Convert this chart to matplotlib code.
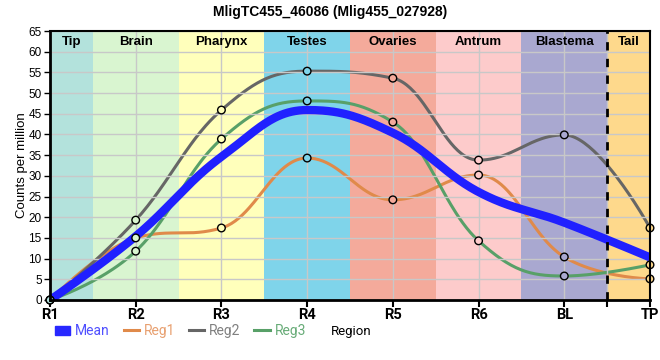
import matplotlib
matplotlib.use('Agg')

import numpy as np
import matplotlib.pyplot as plt
from matplotlib.lines import Line2D
from matplotlib.patches import Patch

# data
regions = ['R1', 'R2', 'R3', 'R4', 'R5', 'R6', 'BL', 'TP']
tissues = ['Tip', 'Brain', 'Pharynx', 'Testes', 'Ovaries', 'Antrum', 'Blastema', 'Tail']
mean_vals = [0, 15.4, 34.6, 45.9, 40.4, 26.1, 18.7, 10.3]
reg1 = [0, 15.0, 17.4, 34.3, 24.2, 30.2, 10.4, 5.1]
reg2 = [0, 19.3, 45.9, 55.3, 53.6, 33.8, 39.9, 17.4]
reg3 = [0, 11.8, 38.9, 48.1, 43.0, 14.3, 5.8, 8.5]

band_colors = ['#b3e2dc', '#d9f5d0', '#ffffbb', '#7fd4ea',
               '#f4aa9b', '#fdcbcb', '#a9a8d0', '#fed98c']


def spline_curve(x, y, n=50):
    """bezier spline through the points, control points at 0.4 of the gap,
    flattened at local extremes (like a Highcharts 'spline' series)"""
    x = np.asarray(x, float)
    y = np.asarray(y, float)
    k = len(x)
    lx, ly = x.copy(), y.copy()
    rx, ry = x.copy(), y.copy()
    sm = 1.5
    d = sm + 1
    for i in range(1, k - 1):
        lcx = (sm * x[i] + x[i - 1]) / d
        lcy = (sm * y[i] + y[i - 1]) / d
        rcx = (sm * x[i] + x[i + 1]) / d
        rcy = (sm * y[i] + y[i + 1]) / d
        corr = (rcy - lcy) * (rcx - x[i]) / (rcx - lcx) + y[i] - rcy
        lcy += corr
        rcy += corr
        if lcy > y[i - 1] and lcy > y[i]:
            lcy = max(y[i - 1], y[i])
            rcy = 2 * y[i] - lcy
        elif lcy < y[i - 1] and lcy < y[i]:
            lcy = min(y[i - 1], y[i])
            rcy = 2 * y[i] - lcy
        if rcy > y[i + 1] and rcy > y[i]:
            rcy = max(y[i + 1], y[i])
            lcy = 2 * y[i] - rcy
        elif rcy < y[i + 1] and rcy < y[i]:
            rcy = min(y[i + 1], y[i])
            lcy = 2 * y[i] - rcy
        lx[i], ly[i], rx[i], ry[i] = lcx, lcy, rcx, rcy
    xs, ys = [], []
    t = np.linspace(0, 1, n)
    b0, b1, b2, b3 = (1 - t)**3, 3 * t * (1 - t)**2, 3 * t**2 * (1 - t), t**3
    for i in range(k - 1):
        xs.append(b0 * x[i] + b1 * rx[i] + b2 * lx[i + 1] + b3 * x[i + 1])
        ys.append(b0 * y[i] + b1 * ry[i] + b2 * ly[i + 1] + b3 * y[i + 1])
    return np.concatenate(xs), np.concatenate(ys)


plt.rcParams['font.family'] = ['Liberation Sans', 'DejaVu Sans']

fig = plt.figure(figsize=(6.6, 3.6), dpi=100)
ax = fig.add_axes([50 / 660, 60 / 360, 600 / 660, 269 / 360])

xpos = np.arange(len(regions))

# tissue bands
for i, (name, col) in enumerate(zip(tissues, band_colors)):
    lo = max(i - 0.5, 0)
    hi = min(i + 0.5, len(regions) - 1)
    ax.axvspan(lo, hi, color=col, lw=0, zorder=0)
    ax.text((lo + hi) / 2, 62.4, name, ha='center', va='center',
            fontsize=9.5, fontweight='bold', zorder=6)

ax.grid(True, color='#c8c8c8', lw=1, zorder=1)
ax.set_axisbelow(False)

ax.axvline(6.5, color='black', lw=2, ls=(0, (3, 3)), zorder=5)

series = [
    ('Reg1', reg1, '#e08a4a'),
    ('Reg2', reg2, '#666666'),
    ('Reg3', reg3, '#58a068'),
]

xm, ym = spline_curve(xpos, mean_vals)
ax.plot(xm, ym, color='#2020ff', lw=6, solid_capstyle='butt', zorder=3)

for name, vals, col in series:
    xs, ys = spline_curve(xpos, vals)
    ax.plot(xs, ys, color=col, lw=2.2, zorder=2)

for name, vals, col in series:
    ax.scatter(xpos, vals, s=30, facecolors=band_colors, edgecolors='black',
               linewidths=1, zorder=4, clip_on=False)

ax.set_xlim(0, len(regions) - 1)
ax.set_ylim(0, 65)
ax.set_xticks(list(xpos) + [6.5])
ax.set_xticklabels(regions + [''], fontsize=10.5, fontweight='bold', family='Roboto')
ax.set_yticks(np.arange(0, 66, 5))
ax.tick_params(axis='y', labelsize=8.5, length=4, width=1, pad=2)
ax.tick_params(axis='x', length=5, width=1.5, pad=1)

for side in ['left', 'bottom']:
    ax.spines[side].set_linewidth(2)
for side in ['top', 'right']:
    ax.spines[side].set_linewidth(1.5)
for sp in ax.spines.values():
    sp.set_zorder(7)

ax.set_ylabel('Counts per million', fontsize=9.5, labelpad=0)
fig.text(351 / 660, 1 - 331 / 360, 'Region', ha='center', va='center',
         fontsize=9.5, family='Roboto')
fig.suptitle('MligTC455_46086 (Mlig455_027928)', fontsize=10, fontweight='bold', y=0.985)

handles = [Patch(color='#2828ff', label='Mean')] + \
          [Line2D([], [], color=c, lw=2.2, label=n) for n, v, c in series]
leg = fig.legend(handles=handles, loc='center left', bbox_to_anchor=(0.083, 1 - 331 / 360),
                 ncol=4, frameon=False, handlelength=1.1, handleheight=0.6, handletextpad=0.35,
                 columnspacing=1.0, borderaxespad=0, borderpad=0,
                 prop={'family': 'Roboto', 'size': 10})
for txt, c in zip(leg.get_texts(), ['#5050ff', '#e8a070', '#808080', '#68ac78']):
    txt.set_color(c)

fig.savefig('out.png', dpi=100)
